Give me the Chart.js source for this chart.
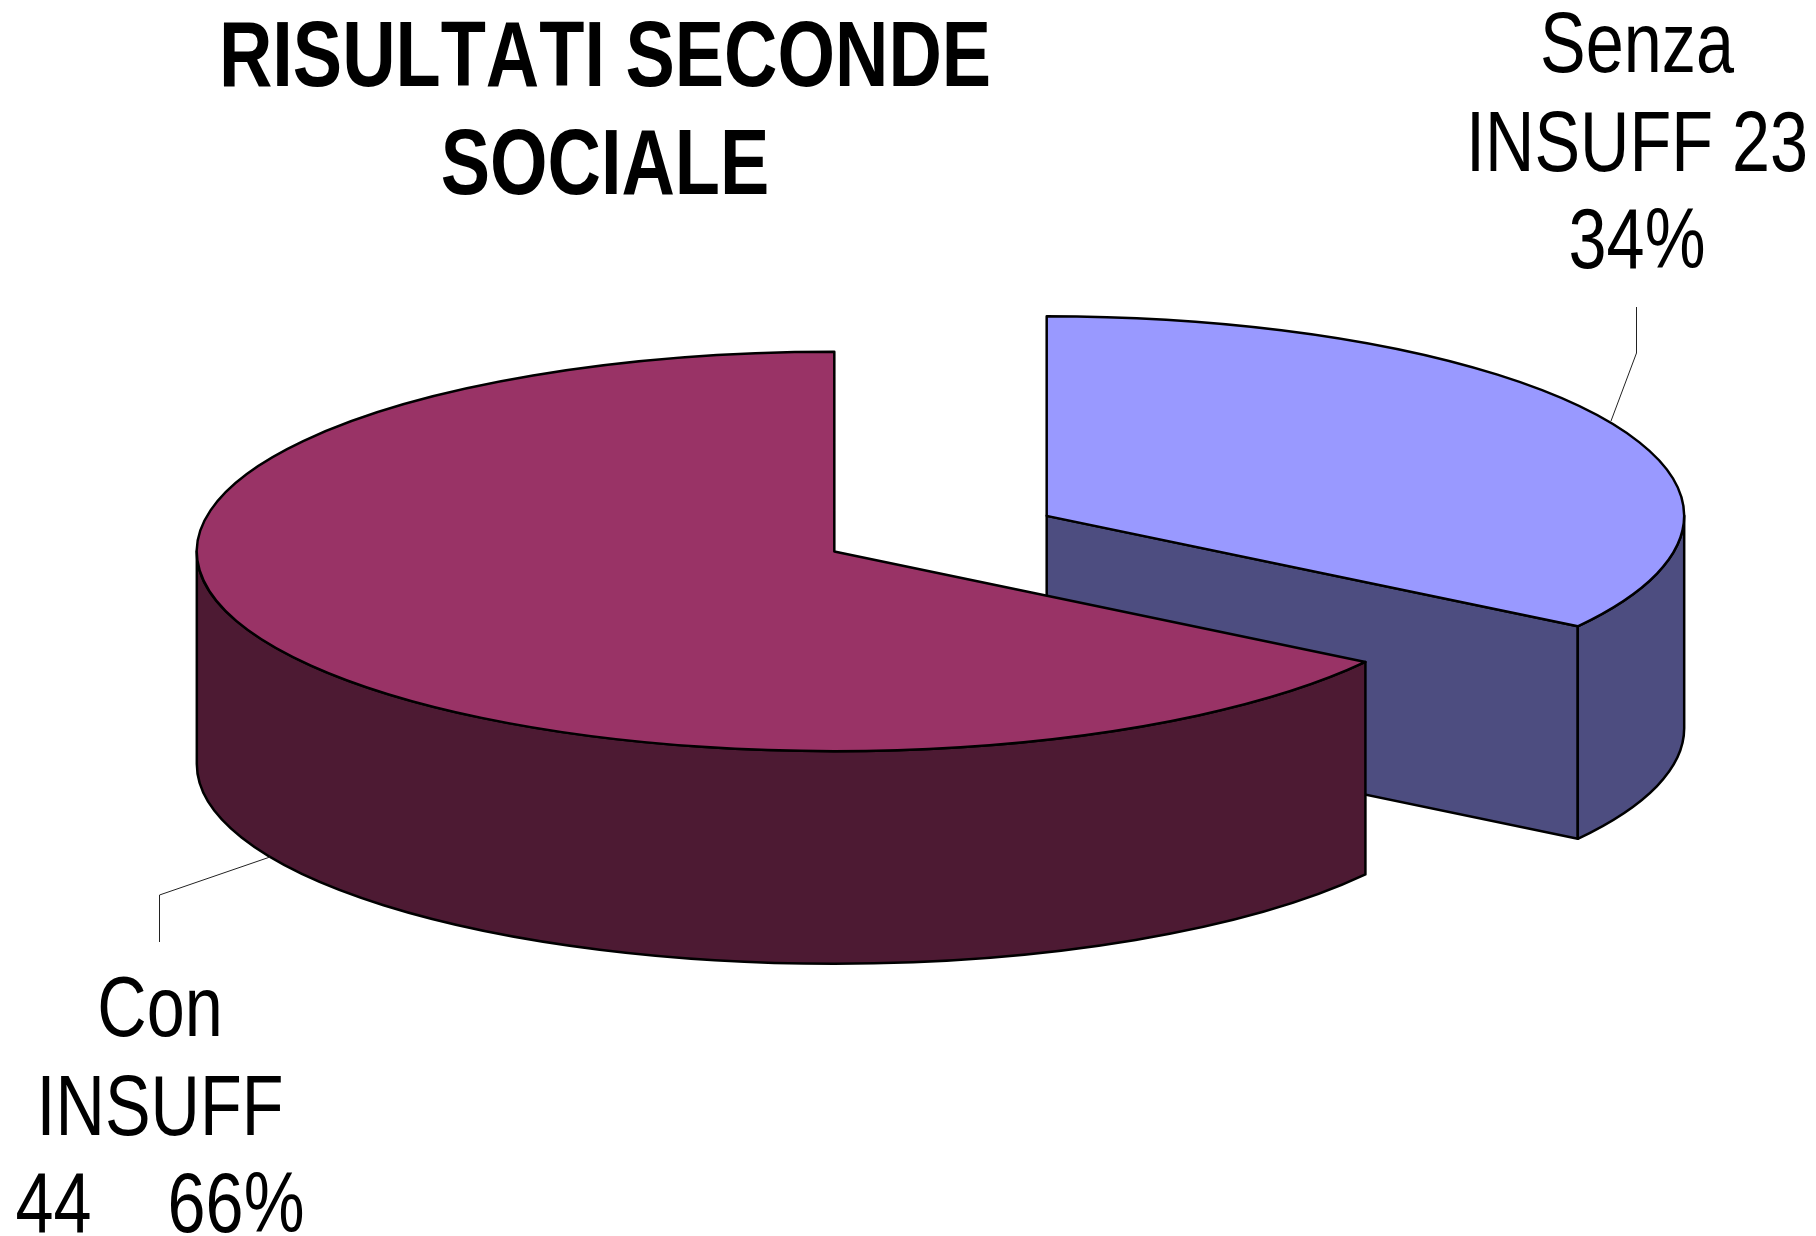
<!DOCTYPE html>
<html lang="it">
<head>
<meta charset="utf-8">
<title>Risultati seconde sociale</title>
<script src="https://cdn.jsdelivr.net/npm/chart.js@4"></script>
<style>
  html, body { margin: 0; background: #fff; }
  canvas { display: block; }
</style>
</head>
<body>
<canvas id="torta" width="1816" height="1236"></canvas>
<script>
// Dati
const categorie = ["Senza INSUFF", "Con INSUFF"];
const valori = [23, 44];
const titolo = ["RISULTATI SECONDE", "SOCIALE"];
const etichettaSenza = ["Senza", "INSUFF 23", "34%"];
const etichettaCon = ["Con", "INSUFF", "44    66%"];

// Colori: faccia superiore e parete laterale
const coloriFaccia = ["#9999ff", "#993366"];
const coloriParete = ["#4d4d80", "#4d1a33"];

// Parametri della vista 3D
const RAGGIO = 637.5;
const ESPLOSIONE = 120.5;
const SCHIACCIAMENTO = 0.3132;
const PROFONDITA = 212.5;
const SPESSORE = 2.5;
const FONT = '"Liberation Sans", Arial, sans-serif';
const STRETTO = 0.795; // il font originale è un Arial Narrow

// L'offset di Chart.js taglia gli angoli delle fette, quindi lo spostamento si fa qui
function geometria(arco) {
  const medio = (arco.startAngle + arco.endAngle) / 2;
  return {
    dx: Math.cos(medio) * ESPLOSIONE,
    dy: Math.sin(medio) * ESPLOSIONE,
    cx: arco.x + Math.cos(medio) * ESPLOSIONE,
    cy: arco.y + Math.sin(medio) * ESPLOSIONE * SCHIACCIAMENTO,
    r: arco.outerRadius,
    ry: arco.outerRadius * SCHIACCIAMENTO,
    inizio: arco.startAngle,
    fine: arco.endAngle
  };
}

function disegnaPareti(ctx, arco, colore) {
  const g = geometria(arco);
  ctx.fillStyle = colore;
  ctx.strokeStyle = "#000";
  ctx.lineWidth = SPESSORE;
  ctx.lineJoin = "round";

  // Parete piana sul taglio finale, se rivolta verso chi guarda
  if (Math.sin(g.fine + Math.PI / 2) > 0.001) {
    const px = g.cx + Math.cos(g.fine) * g.r;
    const py = g.cy + Math.sin(g.fine) * g.ry;
    ctx.beginPath();
    ctx.moveTo(g.cx, g.cy);
    ctx.lineTo(px, py);
    ctx.lineTo(px, py + PROFONDITA);
    ctx.lineTo(g.cx, g.cy + PROFONDITA);
    ctx.closePath();
    ctx.fill();
    ctx.stroke();
  }

  // Parete curva: solo la parte davanti
  const a = Math.max(g.inizio, 0);
  const b = Math.min(g.fine, Math.PI);
  if (b > a) {
    ctx.beginPath();
    ctx.ellipse(g.cx, g.cy, g.r, g.ry, 0, a, b);
    ctx.ellipse(g.cx, g.cy + PROFONDITA, g.r, g.ry, 0, b, a, true);
    ctx.closePath();
    ctx.fill();
    ctx.stroke();
  }
}

function disegnaFaccia(ctx, arco) {
  const g = geometria(arco);
  ctx.save();
  ctx.translate(0, arco.y);
  ctx.scale(1, SCHIACCIAMENTO);
  ctx.translate(g.dx, -arco.y + g.dy);
  arco.draw(ctx);
  ctx.restore();

  ctx.strokeStyle = "#000";
  ctx.lineWidth = SPESSORE;
  ctx.lineJoin = "round";
  ctx.beginPath();
  ctx.moveTo(g.cx, g.cy);
  ctx.ellipse(g.cx, g.cy, g.r, g.ry, 0, g.inizio, g.fine);
  ctx.closePath();
  ctx.stroke();
}

function scriviRighe(ctx, righe, x, basi) {
  righe.forEach((riga, i) => {
    ctx.save();
    ctx.translate(x, basi[i]);
    ctx.scale(STRETTO, 1);
    ctx.fillText(riga, 0, 0);
    ctx.restore();
  });
}

function lineaGuida(ctx, punti) {
  ctx.strokeStyle = "#222";
  ctx.lineWidth = 1;
  ctx.beginPath();
  punti.forEach((p, i) => i ? ctx.lineTo(p[0], p[1]) : ctx.moveTo(p[0], p[1]));
  ctx.stroke();
}

const pluginTorta3D = {
  id: "torta3d",
  beforeDatasetDraw(chart, args) {
    const ctx = chart.ctx;
    const archi = args.meta.data;
    archi.forEach((arco, i) => disegnaPareti(ctx, arco, coloriParete[i]));
    archi.forEach(arco => disegnaFaccia(ctx, arco));
    return false; // le fette sono già disegnate
  },
  afterDraw(chart) {
    const ctx = chart.ctx;
    ctx.save();
    ctx.fillStyle = "#000";
    ctx.textAlign = "center";
    ctx.textBaseline = "alphabetic";
    ctx.fontKerning = "none";

    ctx.font = "bold 93px " + FONT;
    scriviRighe(ctx, titolo, 605, [86, 193.5]);

    ctx.font = "86px " + FONT;
    scriviRighe(ctx, etichettaSenza, 1637, [72, 171, 268]);
    scriviRighe(ctx, etichettaCon, 160, [1036, 1135, 1232]);

    lineaGuida(ctx, [[1636.5, 307], [1636.5, 353], [1611, 421]]);
    lineaGuida(ctx, [[159.5, 942], [159.5, 895], [270, 857]]);
    ctx.restore();
  }
};

new Chart(document.getElementById("torta"), {
  type: "pie",
  data: {
    labels: categorie,
    datasets: [{
      data: valori,
      backgroundColor: coloriFaccia,
      borderWidth: 0
    }]
  },
  options: {
    responsive: false,
    animation: false,
    radius: RAGGIO,
    layout: { padding: { left: 65, bottom: 168.6 } },
    plugins: {
      legend: { display: false },
      tooltip: { enabled: false }
    }
  },
  plugins: [pluginTorta3D]
});
</script>
</body>
</html>
